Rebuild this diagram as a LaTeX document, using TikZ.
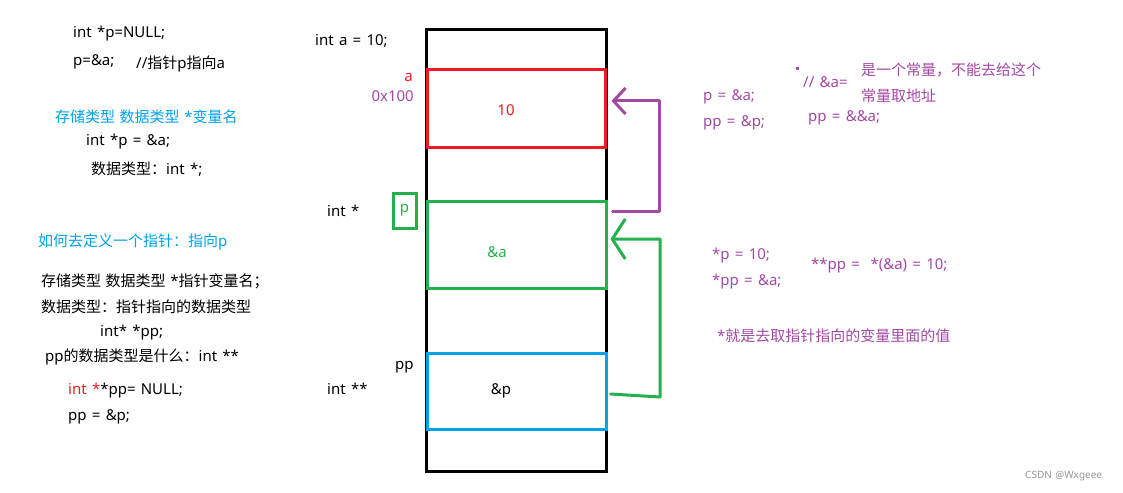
\documentclass[tikz,border=0pt]{standalone}
\usepackage{fontspec}
\setmainfont{Noto Sans}[WordSpace=1.35]
\newfontfamily\cjk{Noto Sans CJK SC}[WordSpace=1.35]
\usetikzlibrary{arrows.meta}
\definecolor{cred}{RGB}{237,28,36}
\definecolor{cgreen}{RGB}{34,177,76}
\definecolor{cblue}{RGB}{0,162,232}
\definecolor{cpurple}{RGB}{163,73,164}
\definecolor{cmark}{RGB}{150,150,150}
\begin{document}
\begin{tikzpicture}[x=1pt,y=-1pt,
  txt/.style={anchor=west,inner sep=0pt,font=\fontsize{15}{17}\selectfont},
  ctxt/.style={inner sep=0pt,font=\fontsize{15}{17}\selectfont},
  ptxt/.style={txt,text=cpurple},
  cell/.style={draw,line width=3pt,inner sep=0pt},
  link/.style={line width=3pt,line cap=round,line join=round},
]
\useasboundingbox (0,0) rectangle (1123,492);
% memory column
\node[cell,draw=black,minimum width=180pt,minimum height=441pt] (mem) at (516,250.5) {};
\node[cell,draw=cred,minimum width=178pt,minimum height=77pt] (abox) at (516,108.5) {};
\node[cell,draw=cgreen,minimum width=179pt,minimum height=87pt] (pbox) at (516.5,244.5) {};
\node[cell,draw=cblue,minimum width=179pt,minimum height=76pt] (ppbox) at (516.5,391) {};
\node[cell,draw=cgreen,minimum width=23pt,minimum height=35pt,text=cgreen,font=\fontsize{15}{17}\selectfont] (pname) at (404.5,210.5) {p};
% values in cells
\node[ctxt,text=cred] (v10) at (506,110) {10};
\node[ctxt,text=cgreen] (vamp) at (497,252) {\&a};
\node[ctxt] (vpp) at (501,391) {\&p};
% labels beside column
\node[txt] (inta) at (315,41) {int a = 10;};
\node[ctxt,anchor=east,text=cred] (la) at (413,77) {a};
\node[ctxt,anchor=east,text=cpurple] (addr) at (414,96) {0x100};
\node[txt] (intp) at (327,211) {int *};
\node[txt] (lpp) at (395,367) {pp};
\node[txt] (intpp) at (327,389) {int **};
% left notes
\node[txt] (t1) at (73,34) {int *p=NULL;};
\node[txt] (t2) at (73,62) {p=\&a;};
\node[txt] (t3) at (136,64) {//{\cjk 指针}p{\cjk 指向}a};
\node[txt,text=cblue] (t4) at (55,117) {{\cjk 存储类型 数据类型 }*{\cjk 变量名}};
\node[txt] (t5) at (86,142) {int *p = \&a;};
\node[txt] (t6) at (91,169) {{\cjk 数据类型：}int *;};
\node[txt,text=cblue] (t7) at (38,242) {{\cjk 如何去定义一个指针：指向}p};
\node[txt] (t8) at (41,281) {{\cjk 存储类型 数据类型 }*{\cjk 指针变量名；}};
\node[txt] (t9) at (41,307) {{\cjk 数据类型：指针指向的数据类型}};
\node[txt] (t10) at (100,333) {int* *pp;};
\node[txt] (t11) at (45,357) {pp{\cjk 的数据类型是什么：}int **};
\node[txt] (t12) at (68,391) {{\color{cred}int *}*pp= NULL;};
\node[txt] (t13) at (68,417) {pp = \&p;};
% right notes
\node[ptxt] (r1) at (703,97) {p = \&a;};
\node[ptxt] (r2) at (703,123) {pp = \&p;};
\node[ptxt] (r3) at (803,82) {// \&a=};
\node[ptxt] (r4) at (861,70) {{\cjk 是一个常量，不能去给这个}};
\node[ptxt] (r5) at (861,96) {{\cjk 常量取地址}};
\node[ptxt] (r6) at (808,118) {pp = \&\&a;};
\node[ptxt] (r7) at (712,256) {*p = 10;};
\node[ptxt] (r8) at (712,282) {*pp = \&a;};
\node[ptxt] (r9) at (811,266) {**pp =\ \ *(\&a) = 10;};
\node[ptxt] (r10) at (717,336) {*{\cjk 就是去取指针指向的变量里面的值}};
\fill[cpurple] (795.5,67.5) rectangle (798.5,70.5);
% connectors
\draw[link,draw=cpurple,-{Straight Barb[length=12pt,width=26pt,line width=3pt]}]
  ([xshift=5pt]pbox.east |- 0,211) -- (659,211) -- (659,101) -- ([xshift=5pt]abox.east |- 0,101);
\draw[link,draw=cgreen,-{Straight Barb[length=13pt,width=40pt,line width=3pt]}]
  ([xshift=3pt]ppbox.east |- 0,394) -- (660,397) -- (660,239) -- ([xshift=3pt]pbox.east |- 0,239);
% watermark
\node[anchor=west,inner sep=0pt,text=cmark,font=\fontsize{10}{12}\selectfont] (wm) at (1025,476) {CSDN @Wxgeee};
\end{tikzpicture}
\end{document}
